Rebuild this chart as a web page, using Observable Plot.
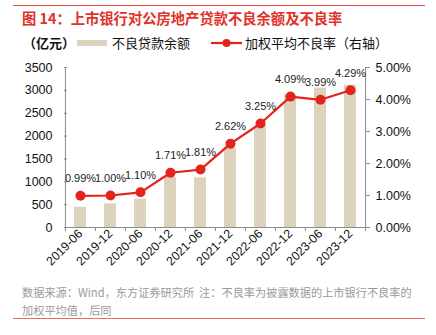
<!DOCTYPE html>
<html><head><meta charset="utf-8">
<script src="https://cdn.jsdelivr.net/npm/d3@7"></script>
<script src="https://cdn.jsdelivr.net/npm/@observablehq/plot@0.6"></script>
<style>
body{margin:0;width:436px;height:335px;position:relative;background:#fff;font-family:"Liberation Sans","Noto Sans CJK SC",sans-serif;overflow:hidden}
.abs{position:absolute;white-space:nowrap}
#topline{left:13px;top:5px;width:412px;height:1px;background:#E8453C}
#botline{left:13px;top:318px;width:412px;height:1px;background:#EE6A62}
#title{left:22px;top:9px;font-size:14.3px;line-height:18px;color:#E0322A;font-weight:bold;font-family:"Noto Sans CJK SC","Liberation Sans",sans-serif}
#legend{left:23px;top:35px;font-size:13px;line-height:16px;color:#111;font-family:"Noto Sans CJK SC","Liberation Sans",sans-serif}
#footer{left:22px;top:283px;font-size:11.2px;line-height:18px;color:#9a9a9a;font-family:"Noto Sans CJK SC","Liberation Sans",sans-serif}
#chart{left:0;top:55px}
</style></head><body>
<div class="abs" id="topline"></div>
<div class="abs" id="title">图 14：上市银行对公房地产贷款不良余额及不良率</div>
<div class="abs" id="legend"></div>
<div class="abs" id="chart"></div>
<div class="abs" id="footer">数据来源：Wind，东方证券研究所&nbsp;&nbsp;注：不良率为披露数据的上市银行不良率的<br>加权平均值，后同</div>
<div class="abs" id="botline"></div>
<script>
const periods = ["2019-06","2019-12","2020-06","2020-12","2021-06","2021-12","2022-06","2022-12","2023-06","2023-12"];
const balances = [444, 518, 619, 1100, 1087, 1735, 2216, 2900, 3048, 3113];
const rates = [0.99, 1.00, 1.10, 1.71, 1.81, 2.62, 3.25, 4.09, 3.99, 4.29];
const leftTicks = [0, 500, 1000, 1500, 2000, 2500, 3000, 3500];
const rightTicks = [0, 1, 2, 3, 4, 5];
const unitLabel = "（亿元）";
const barName = "不良贷款余额";
const lineName = "加权平均不良率（右轴）";

const barColor = "#DDD3BD";
const lineColor = "#E5231D";
const axisColor = "#8c8c8c";
const k = 3500 / 5; // right axis % -> left axis units

const data = periods.map((p, i) => ({period: p, balance: balances[i], rate: rates[i]}));

const W = 436, H = 230, mL = 64, mR = 71;
const step = (W - mL - mR) / periods.length;

const chart = Plot.plot({
  width: W, height: H,
  marginTop: 12, marginBottom: 58, marginLeft: mL, marginRight: mR,
  style: {fontFamily: "Liberation Sans, Arial, sans-serif", fontSize: "12px", color: "#111", background: "transparent"},
  x: {type: "band", domain: periods, paddingInner: 0.6, paddingOuter: 0.3, label: null},
  y: {domain: [0, 3500], label: null},
  marks: [
    Plot.barY(data, {x: "period", y: "balance", fill: barColor}),
    Plot.ruleY([0], {stroke: axisColor}),
    Plot.ruleX([periods[0]], {y1: 0, y2: 3500, dx: -step / 2, stroke: axisColor}),
    Plot.ruleX([periods[periods.length - 1]], {y1: 0, y2: 3500, dx: step / 2, stroke: axisColor}),
    // x ticks at band boundaries
    Plot.axisX({tickSize: 4, dx: -step / 2, tickFormat: () => "", stroke: axisColor, label: null}),
    Plot.axisX({ticks: [periods[periods.length - 1]], tickSize: 4, dx: step / 2, tickFormat: () => "", stroke: axisColor, label: null}),
    Plot.axisX({tickSize: 0, tickRotate: -45, tickPadding: 4, fontSize: 12.3, fill: "#111", label: null}),
    // left axis
    Plot.axisY({anchor: "left", ticks: leftTicks, tickSize: 0, tickPadding: 12, fontSize: 12.5, fill: "#111", tickFormat: d => String(d), label: null}),
    Plot.axisY({anchor: "left", ticks: leftTicks, tickSize: 3, dx: 3, tickFormat: () => "", stroke: axisColor, label: null}),
    // right axis
    Plot.axisY({anchor: "right", ticks: rightTicks.map(t => t * k), tickSize: 4, tickPadding: 6, stroke: axisColor, fill: "#111", fontSize: 12.5,
      tickFormat: d => (d / k).toFixed(2) + "%", label: null}),
    Plot.line(data, {x: "period", y: d => d.rate * k, stroke: lineColor, strokeWidth: 2.2}),
    Plot.dot(data, {x: "period", y: d => d.rate * k, r: 5, fill: lineColor, stroke: "none"}),
    Plot.text(data, {x: "period", y: d => d.rate * k, text: d => d.rate.toFixed(2) + "%", dy: -17, fontSize: 11, fill: "#222"})
  ]
});
document.getElementById("chart").appendChild(chart);

// legend
const lg = document.getElementById("legend");
lg.innerHTML =
  `<span style="position:absolute;left:0;top:0;font-weight:bold">${unitLabel}</span>` +
  `<span style="position:absolute;left:54px;top:5px;width:30px;height:6px;background:${barColor}"></span>` +
  `<span style="position:absolute;left:89px;top:0">${barName}</span>` +
  `<svg style="position:absolute;left:188px;top:0" width="32" height="16"><line x1="0" x2="31" y1="8" y2="8" stroke="${lineColor}" stroke-width="2.2"/><circle cx="15.5" cy="8" r="4" fill="${lineColor}"/></svg>` +
  `<span style="position:absolute;left:222px;top:0">${lineName}</span>`;
</script>
</body></html>
